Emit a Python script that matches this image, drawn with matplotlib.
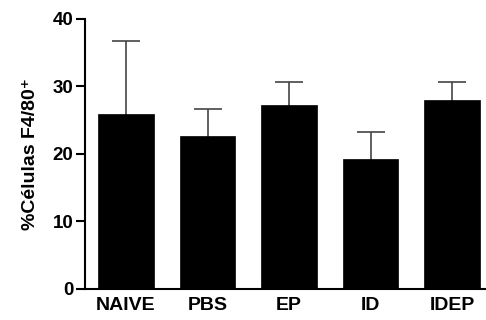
import matplotlib.pyplot as plt
import numpy as np

groups = ["NAIVE", "PBS", "EP", "ID", "IDEP"]
means = [25.85, 22.6, 27.2, 19.25, 27.9]
sem = [10.85, 4.1, 3.5, 3.95, 2.7]

plt.rcParams["font.family"] = ["Liberation Sans", "DejaVu Sans"]
plt.rcParams["font.weight"] = "bold"

fig = plt.figure(figsize=(4.86, 3.2), dpi=100)
ax = fig.add_axes([0.175, 0.098, 0.823, 0.843])

x = np.arange(len(groups))
ax.bar(x, means, width=0.68, color="black", edgecolor="black", linewidth=0.5, zorder=2)
# symmetric bars, the lower half is hidden behind the bar
ax.errorbar(x, means, yerr=sem, fmt="none", ecolor="#444444",
            elinewidth=1.2, capsize=10, capthick=1.2, zorder=1)

ax.set_xlim(-0.503, 4.405)
ax.set_ylim(0, 40)
ax.set_yticks([0, 10, 20, 30, 40])
ax.set_xticks(x)
ax.set_xticklabels(groups, fontsize=14, fontweight="bold")
ax.tick_params(axis="y", labelsize=13.5, width=1.5, length=6.5, direction="out", pad=2)
ax.tick_params(axis="x", length=0, pad=6)
for lbl in ax.get_yticklabels():
    lbl.set_fontweight("bold")

ax.spines["top"].set_visible(False)
ax.spines["right"].set_visible(False)
ax.spines["left"].set_linewidth(1.5)
ax.spines["bottom"].set_linewidth(1.5)

ax.set_ylabel("%Células F4/80\u207a", fontsize=14, fontweight="bold", labelpad=10)

fig.savefig("out.png", dpi=100)
